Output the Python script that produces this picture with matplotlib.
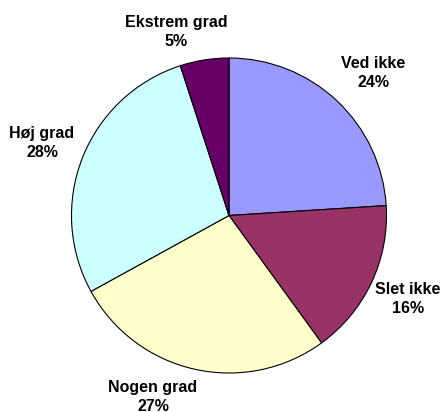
import matplotlib
matplotlib.use('Agg')
import matplotlib.pyplot as plt

# Data
labels = ['Ved ikke', 'Slet ikke', 'Nogen grad', 'Høj grad', 'Ekstrem grad']
values = [24, 16, 27, 28, 5]
colors = ['#9999FF', '#993366', '#FFFFCC', '#CCFFFF', '#660066']

# label centres in pixel coords (x from left, y from top)
label_x = [373, 408, 153, 42, 176]
label_y = [73, 299, 397, 143, 32]

W, H = 442, 412
fig = plt.figure(figsize=(W / 100, H / 100), dpi=100)
ax = fig.add_axes([0, 0, 1, 1])

ax.pie(values, colors=colors, startangle=90, counterclock=False,
       center=(229, H - 215.5), radius=157.5, frame=True,
       wedgeprops=dict(edgecolor='black', linewidth=0.8))
ax.set_xlim(0, W)
ax.set_ylim(0, H)
ax.axis('off')

for lab, v, x, y in zip(labels, values, label_x, label_y):
    ax.text(x, H - y, f'{lab}\n{v}%', ha='center', va='center',
            fontsize=11.5, fontweight='bold', family='Liberation Sans',
            linespacing=1.3)

fig.savefig('out.png', dpi=100)
